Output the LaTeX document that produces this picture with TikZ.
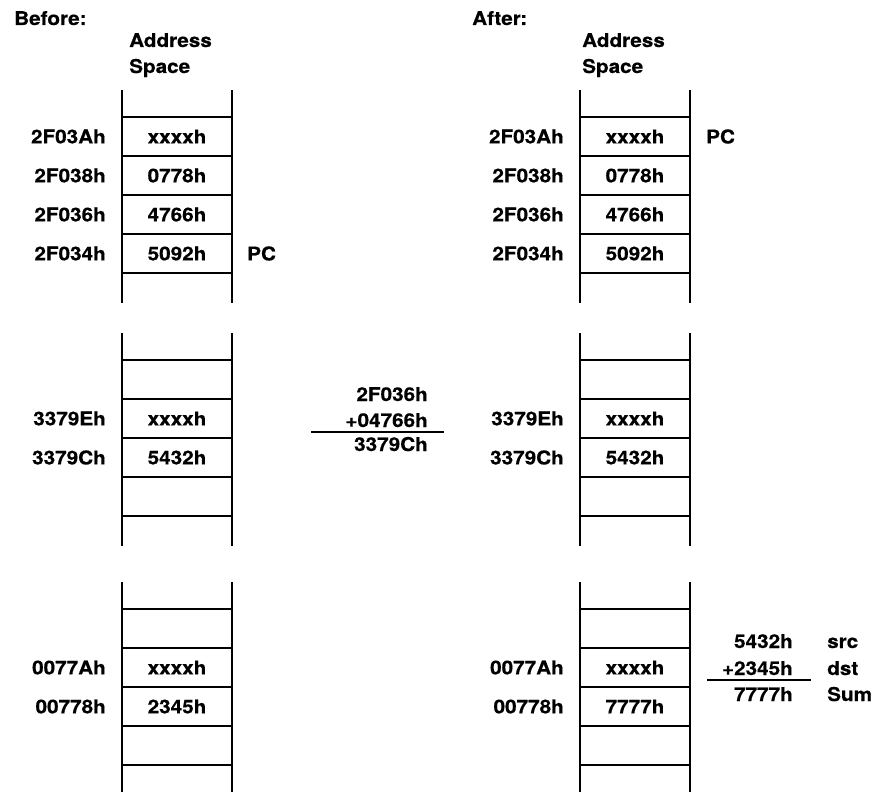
\documentclass[tikz,border=0pt]{standalone}
\usepackage{fontspec}
\setmainfont{TeX Gyre Heros}[FakeStretch=1.09, BoldFeatures={FakeBold=0.4}]
\usetikzlibrary{positioning}

\begin{document}
\begin{tikzpicture}[x=1pt, y=-1pt, wall/.style={line width=2.4pt}, rung/.style={line width=2pt}, sumline/.style={line width=1.2pt}, txt/.style={font=\fontsize{19}{26}\selectfont\bfseries, inner sep=0pt}, addr/.style={txt,anchor=east}, cell/.style={txt}, tag/.style={txt,anchor=west}]
\useasboundingbox (0,0) rectangle (873,792);
% the two address spaces, three pieces each
\foreach \x in {122,580} \foreach \y in {90,333,582} {
  \draw[wall] (\x,\y) -- ++(0,213) (\x+110,\y) -- ++(0,213);
  \foreach \k in {0,...,4} \draw[rung] (\x,\y+27+39*\k) -- ++(110,0);
}
% headings
\node[txt,anchor=base west] (before) at (14,25) {Before:};
\node[txt,anchor=base west] (addrB) at (129,47) {Address};
\node[txt,anchor=base west] (spaceB) at (129,73) {Space};
\node[txt,anchor=base west] (after) at (472,25) {After:};
\node[txt,anchor=base west] (addrA) at (582,47) {Address};
\node[txt,anchor=base west] (spaceA) at (582,73) {Space};
% before
\foreach \a/\v/\y [count=\i] in {2F03Ah/xxxxh/136.5, 2F038h/0778h/175.5, 2F036h/4766h/214.5, 2F034h/5092h/253.5, 3379Eh/xxxxh/418.5, 3379Ch/5432h/457.5, 0077Ah/xxxxh/667.5, 00778h/2345h/706.5} {
  \node[addr] (ba\i) at (106,\y) {\a};
  \node[cell] (bv\i) at (177,\y) {\v};
}
\node[tag] (pcB) at (247,253.5) {PC};
% after
\foreach \a/\v/\y [count=\i] in {2F03Ah/xxxxh/136.5, 2F038h/0778h/175.5, 2F036h/4766h/214.5, 2F034h/5092h/253.5, 3379Eh/xxxxh/418.5, 3379Ch/5432h/457.5, 0077Ah/xxxxh/667.5, 00778h/7777h/706.5} {
  \node[addr] (aa\i) at (564,\y) {\a};
  \node[cell] (av\i) at (635,\y) {\v};
}
\node[tag] (pcA) at (706,136.5) {PC};
% jump target
\node[txt,anchor=base east] (j1) at (428,401) {2F036h};
\node[txt,anchor=base east] (j2) at (428,427) {+04766h};
\node[txt,anchor=base east] (j3) at (428,451) {3379Ch};
\draw[sumline] (311,432) -- (444,432);
% addition
\node[txt,anchor=base east] (s1) at (793,648) {5432h};
\node[txt,anchor=base east] (s2) at (793,675) {+2345h};
\node[txt,anchor=base east] (s3) at (793,701) {7777h};
\draw[sumline] (707,680) -- (811,680);
\node[txt,anchor=base west] (src) at (827,648) {src};
\node[txt,anchor=base west] (dst) at (827,675) {dst};
\node[txt,anchor=base west] (sum) at (827,701) {Sum};
\end{tikzpicture}
\end{document}
